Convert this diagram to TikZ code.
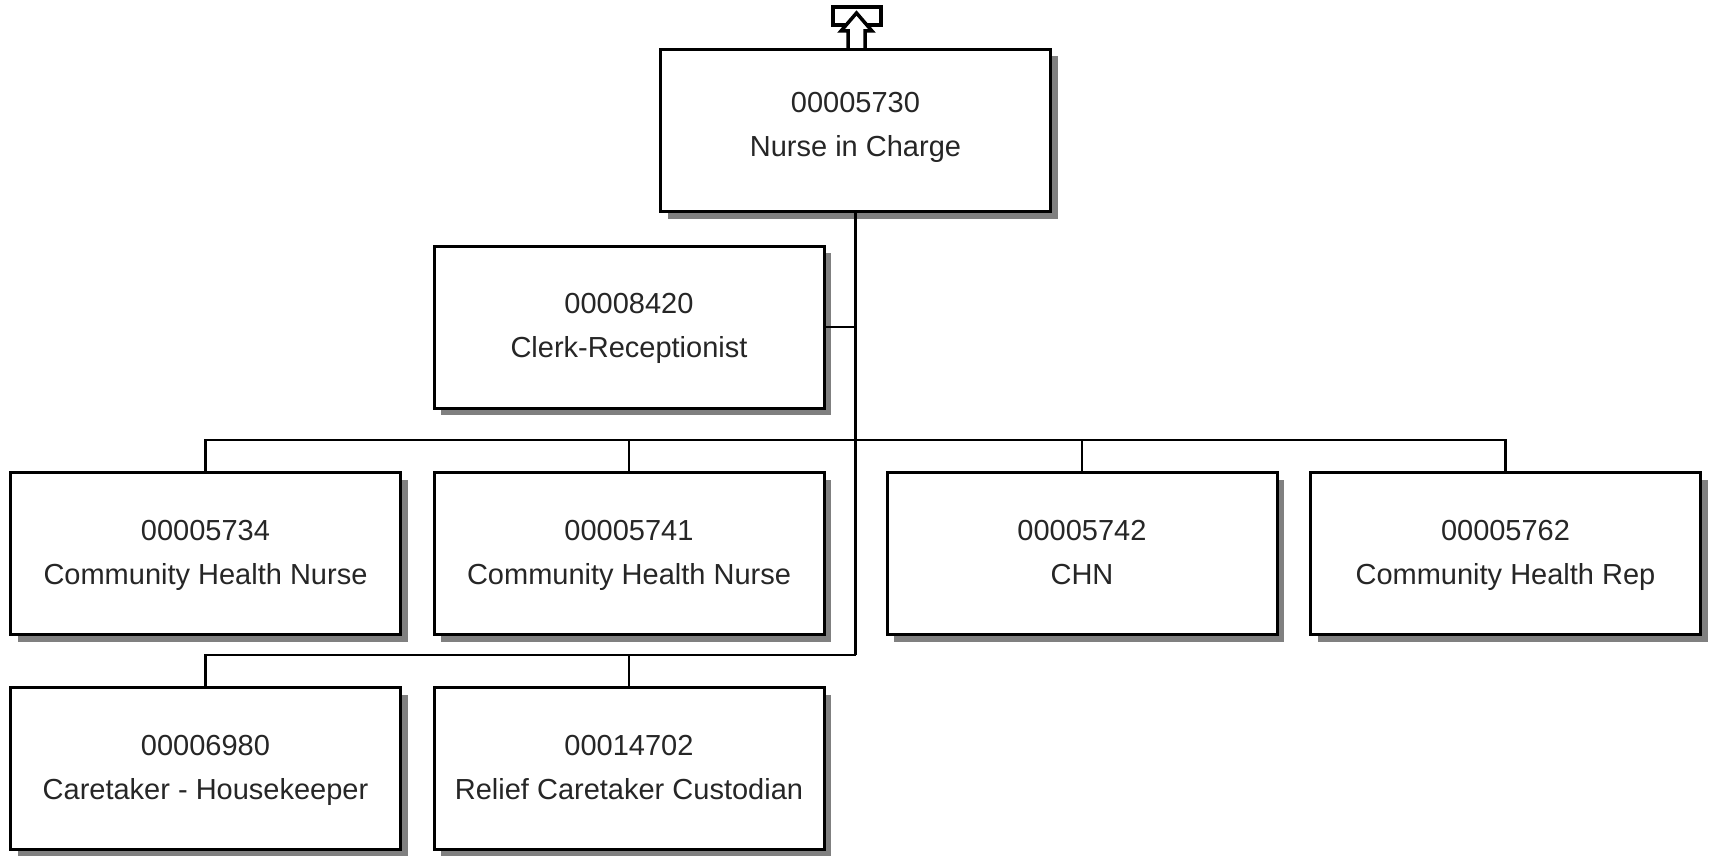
\documentclass[tikz,border=0pt]{standalone}
\usepackage{fontspec}
\setmainfont{Liberation Sans}
\usetikzlibrary{shadows}
\begin{document}
\begin{tikzpicture}[x=1pt,y=-1pt,
  posbox/.style={draw=black, line width=3pt, fill=white, rectangle,
    minimum width=390pt, minimum height=162pt, align=center, inner sep=0pt,
    font=\fontsize{29}{44}\selectfont, text=black!85,
    drop shadow={shadow xshift=7pt, shadow yshift=-7pt, fill=black!50, opacity=1}},
  conn/.style={draw=black, line width=2.7pt},
  uparrow/.style={draw=black, line width=3.5pt, fill=white, line join=miter}]
\useasboundingbox (0,0) rectangle (1711,856);
% boxes
\node[posbox] (top) at (855.5,130.5) {\strut 00005730\\\strut Nurse in Charge\rule[-22pt]{0pt}{0pt}};
\node[posbox] (clerk) at (629,327) {\strut 00008420\\\strut Clerk-Receptionist};
\node[posbox] (chn1) at (205.5,553.5) {\strut 00005734\\\strut Community Health Nurse};
\node[posbox] (chn2) at (629,553.5) {\strut 00005741\\\strut Community Health Nurse};
\node[posbox] (chn3) at (1082,553.5) {\strut 00005742\\\strut CHN};
\node[posbox] (chr) at (1505.5,553.5) {\strut 00005762\\\strut Community Health Rep};
\node[posbox] (care) at (205.5,768.5) {\strut 00006980\\\strut Caretaker - Housekeeper};
\node[posbox] (relief) at (629,768.5) {\strut 00014702\\\strut Relief Caretaker Custodian};
% junctions
\coordinate (jclerk) at (855.5,327);
\coordinate (jbus) at (855.5,440);
\coordinate (jlow) at (855.5,655);
% connectors
\draw[conn] (top.south) -- (jlow);
\draw[conn] (clerk.east) -- (jclerk);
\draw[conn] (chn1.north) |- (jbus);
\draw[conn] (chn2.north) -- (chn2.north |- jbus);
\draw[conn] (chr.north) |- (jbus);
\draw[conn] (chn3.north) -- (chn3.north |- jbus);
\draw[conn] (care.north) |- (jlow);
\draw[conn] (relief.north) -- (relief.north |- jlow);
% up arrow to superior
\coordinate (sup1) at (833,7);
\coordinate (sup2) at (881,25);
\draw[uparrow] (sup1) rectangle (sup2);
\draw[uparrow] (top.north -| 848,0) -- (848,31) -- (841,31) -- (856.5,13)
  -- (872,31) -- (865,31) -- (top.north -| 865,0);
\end{tikzpicture}
\end{document}
